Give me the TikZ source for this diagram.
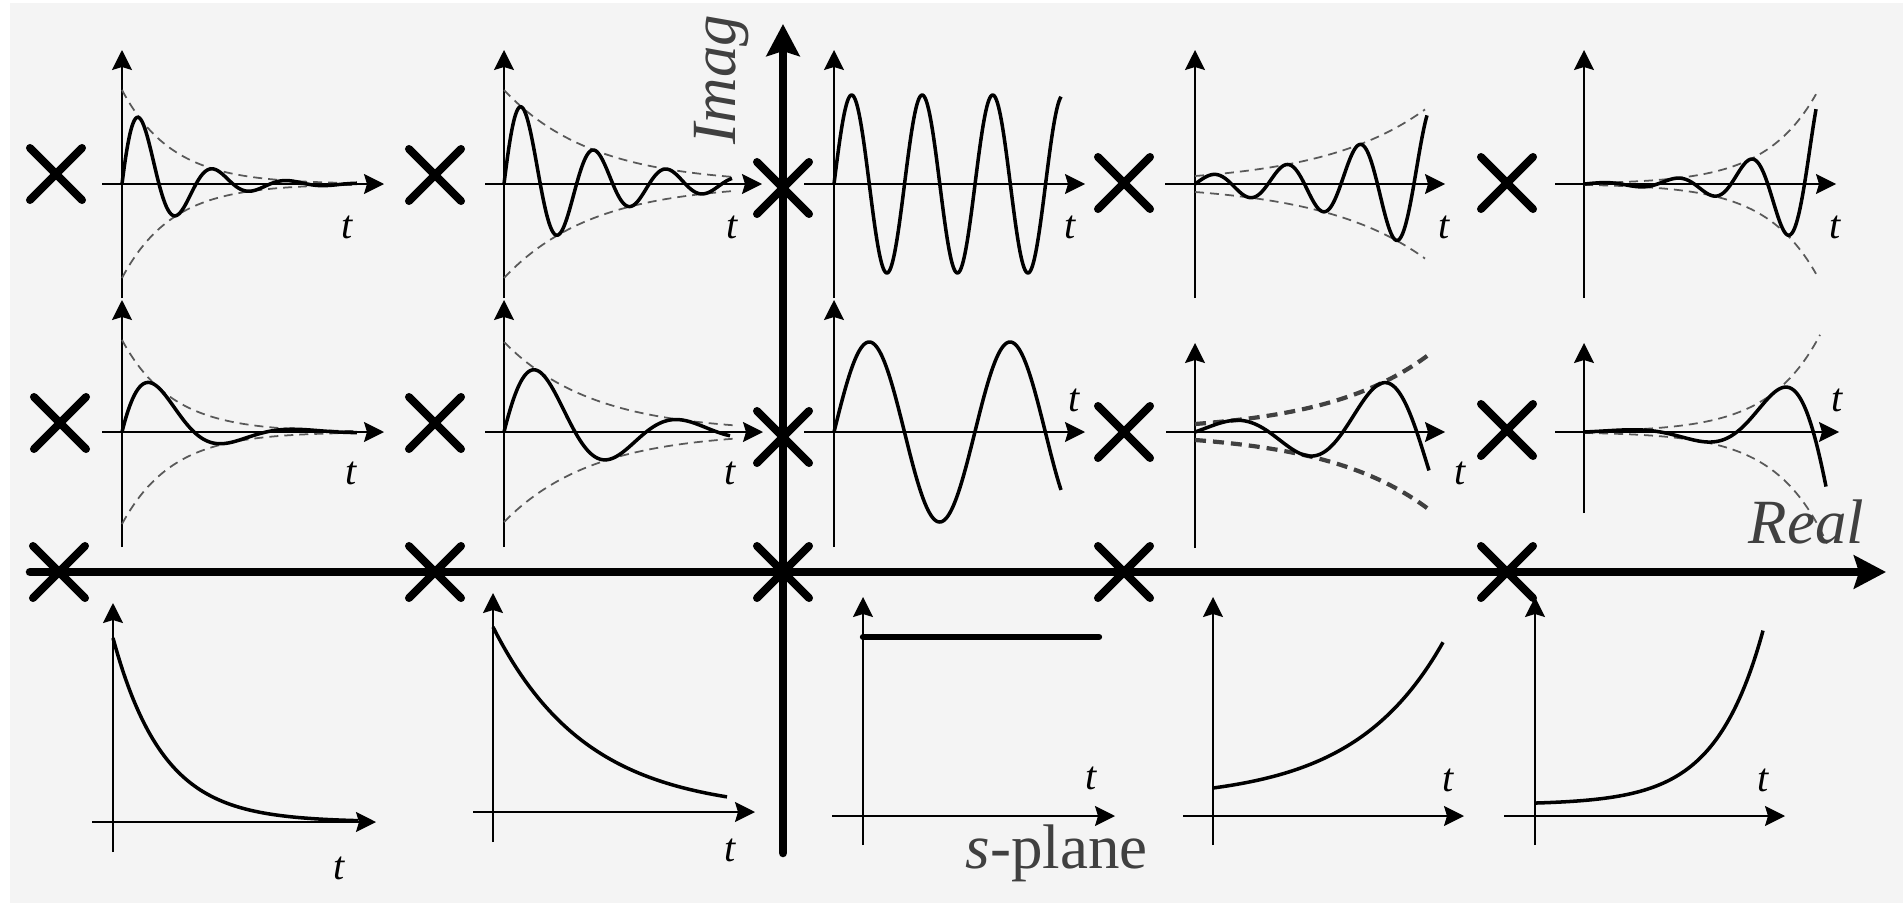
\documentclass[tikz,border=0pt]{standalone}
\usepackage{fontspec}
\setmainfont{Liberation Serif}
\usetikzlibrary{arrows.meta,shapes.misc}
\definecolor{paper}{HTML}{F4F4F4}
\definecolor{ink}{HTML}{404040}
\tikzset{
    mainaxis/.style={line width=0.85mm, line cap=round,
        -{Stealth[length=3.2mm,width=3.3mm,inset=0.5mm]}},
    taxis/.style={line width=0.45pt,
        -{Stealth[length=2mm,width=2mm,inset=0.3mm]}},
    sig/.style={line width=1pt, line join=round, samples=240},
    stepline/.style={line width=1.8pt, line cap=round},
    env/.style={line width=0.5pt, black!65, dash pattern=on 0.9mm off 0.6mm, samples=80},
    envbold/.style={env, line width=1.2pt, black!75, dash pattern=on 1.1mm off 0.7mm},
    pole/.style={draw, cross out, line width=0.8mm, line cap=round,
        minimum size=4.4mm, inner sep=0pt},
    tlabel/.style={inner sep=0pt, font=\fontsize{11.4}{12}\selectfont\itshape},
    planelabel/.style={inner sep=0pt, text=ink, font=\fontsize{17.9}{20}\selectfont}
}

\begin{document}
\begin{tikzpicture}[x=0.01cm, y=-0.01cm]
    \useasboundingbox (0,0) rectangle (1903,903);
    \fill[white] (0,0) rectangle (1903,903);
    \fill[paper] (10,3) rectangle (1903,903);

    % small time axes: name/x0/y0/top/bottom/left/right
    \foreach \n/\ox/\oy/\vt/\vb/\hl/\hr in {
        a1/122/184/50/298/102/384, a2/504/184/50/298/485/762,
        a3/834/184/50/298/804/1085, a4/1195/184/50/298/1165/1445,
        a5/1584/184/50/298/1555/1836,
        b1/122/432/300/547/102/384, b2/504/432/300/547/485/763,
        b3/834/432/300/547/804/1085, b4/1195/432/343/548/1166/1445,
        b5/1584/432/343/513/1555/1839,
        c1/113/822/603/852/92/376, c2/493/812/593/842/473/755,
        c3/863/816/597/845/832/1115, c4/1213/816/597/845/1183/1464,
        c5/1535/816/597/845/1504/1785}{
        \coordinate (o\n) at (\ox,\oy);
        \draw[taxis] (\ox,\vb) -- (\ox,\vt);
        \draw[taxis] (\hl,\oy) -- (\hr,\oy);
    }

    % top row
    \draw[env, shift={(oa1)}] plot[domain=0:235] (\x,{-94*exp(-0.02*\x)})
        plot[domain=0:235] (\x,{94*exp(-0.02*\x)});
    \draw[sig, shift={(oa1)}] plot[domain=0:235] (\x,{-94*exp(-0.02*\x)*sin(deg(0.0849*\x))});
    \draw[env, shift={(oa2)}] plot[domain=0:231] (\x,{-94*exp(-0.0113*\x)})
        plot[domain=0:231] (\x,{94*exp(-0.0113*\x)});
    \draw[sig, shift={(oa2)}] plot[domain=0:228] (\x,{-94*exp(-0.0113*\x)*sin(deg(0.0866*\x))});
    \draw[sig, shift={(oa3)}] plot[domain=0:227] (\x,{-89*sin(deg(0.0891*\x))});
    \draw[env, shift={(oa4)}] plot[domain=0:230] (\x,{-8*exp(0.0097*\x)})
        plot[domain=0:230] (\x,{8*exp(0.0097*\x)});
    \draw[sig, shift={(oa4)}] plot[domain=0:232] (\x,{-8*exp(0.0097*\x)*sin(deg(0.0861*\x))});
    \draw[env, shift={(oa5)}] plot[domain=0:232] (\x,{-0.95*exp(0.0196*\x)})
        plot[domain=0:232] (\x,{0.95*exp(0.0196*\x)});
    \draw[sig, shift={(oa5)}] plot[domain=0:232] (\x,{-0.95*exp(0.0196*\x)*sin(deg(0.0855*\x))});

    % middle row
    \draw[env, shift={(ob1)}] plot[domain=0:235] (\x,{-92*exp(-0.02*\x)})
        plot[domain=0:235] (\x,{92*exp(-0.02*\x)});
    \draw[sig, shift={(ob1)}] plot[domain=0:235] (\x,{-92*exp(-0.02*\x)*sin(deg(0.0436*\x))});
    \draw[env, shift={(ob2)}] plot[domain=0:231] (\x,{-90*exp(-0.0113*\x)})
        plot[domain=0:231] (\x,{90*exp(-0.0113*\x)});
    \draw[sig, shift={(ob2)}] plot[domain=0:226] (\x,{-90*exp(-0.0113*\x)*sin(deg(0.0442*\x))});
    \draw[sig, shift={(ob3)}] plot[domain=0:227] (\x,{-90*sin(deg(0.0446*\x))});
    \draw[envbold, shift={(ob4)}] plot[domain=0:234] (\x,{-8*exp(0.0097*\x)})
        plot[domain=0:234] (\x,{8*exp(0.0097*\x)});
    \draw[sig, shift={(ob4)}] plot[domain=0:234] (\x,{-8*exp(0.0097*\x)*sin(deg(0.0425*\x))});
    \draw[env, shift={(ob5)}] plot[domain=0:236] (\x,{-0.95*exp(0.0196*\x)})
        plot[domain=0:243] (\x,{0.95*exp(0.0196*\x)});
    \draw[sig, shift={(ob5)}] plot[domain=0:242] (\x,{-0.95*exp(0.0196*\x)*sin(deg(0.0411*\x))});

    % bottom row
    \draw[sig, shift={(oc1)}] plot[domain=0:245] (\x,{-184*exp(-0.02*\x)});
    \draw[sig, shift={(oc2)}] plot[domain=0:234] (\x,{-185*exp(-0.0107*\x)});
    \draw[stepline, shift={(oc3)}] (0,-179) -- (236,-179);
    \draw[sig, shift={(oc4)}] plot[domain=0:230] (\x,{-16-12*exp(0.0112*\x)});
    \draw[sig, shift={(oc5)}] plot[domain=0:228] (\x,{-11.5-1.45*exp(0.021*\x)});

    % s-plane axes
    \coordinate (re0) at (30,572);
    \coordinate (re1) at (1886,572);
    \coordinate (im0) at (783,853);
    \coordinate (im1) at (783,24);
    \draw[mainaxis] (re0) -- (re1);
    \draw[mainaxis] (im0) -- (im1);

    \foreach \n/\px/\py in {
        a1/56/174, a2/435/175, a3/783/188, a4/1124/183, a5/1507/183,
        b1/60/423, b2/435/423, b3/783/437, b4/1124/432, b5/1507/430,
        c1/59/572, c2/435/572, c3/783/572, c4/1124/572, c5/1507/572}
        \node[pole] (x\n) at (\px,\py) {};

    \foreach \n/\tx/\ty in {
        a1/347/227, a2/732/227, a3/1070/227, a4/1444/227, a5/1835/227,
        b1/351/473, b2/730/473, b3/1074/400, b4/1460/473, b5/1837/400,
        c1/339/868, c2/730/850, c3/1091/778, c4/1448/780, c5/1763/780}
        \node[tlabel] (t\n) at (\tx,\ty) {t};

    \node[planelabel, rotate=90, anchor=base west] (imag) at (735,145) {\textit{Imag}};
    \node[planelabel, anchor=base west] (real) at (1748,543) {\textit{Real}};
    \node[planelabel, anchor=base west] (splane) at (965,868) {\textit{s}-plane};
\end{tikzpicture}
\end{document}
